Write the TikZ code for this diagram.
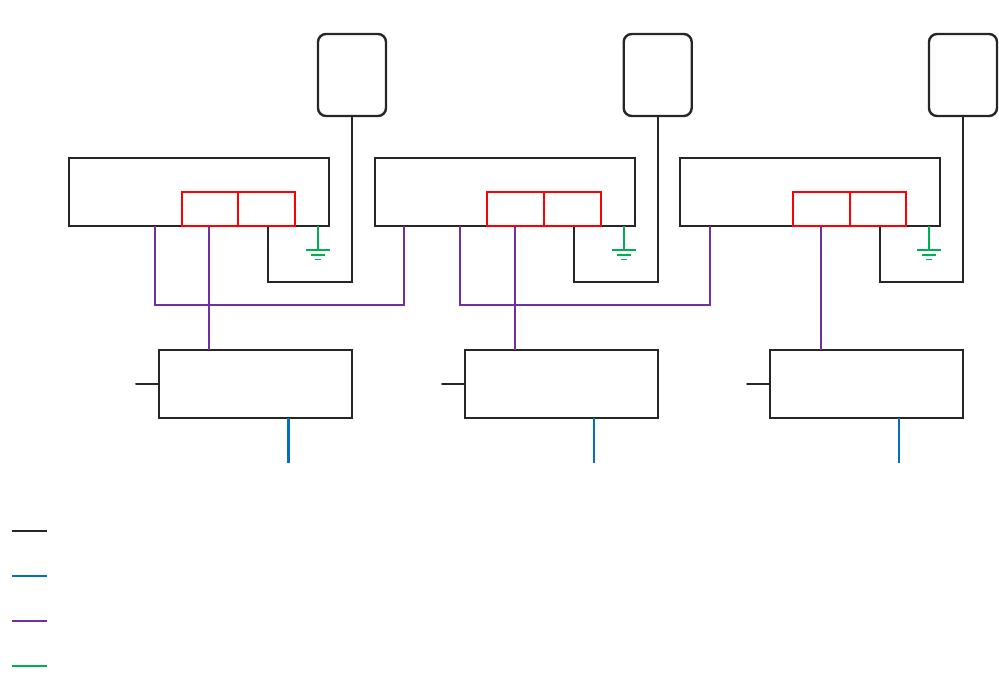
\documentclass[tikz,border=0pt]{standalone}
\usetikzlibrary{calc}
\definecolor{ink}{HTML}{262626}
\definecolor{redport}{HTML}{FF0000}
\definecolor{busblue}{HTML}{0070C0}
\definecolor{buspurple}{HTML}{7030A0}
\definecolor{busgreen}{HTML}{00B050}
\tikzset{
  box/.style={draw=ink,line width=1.9pt,inner sep=0pt,outer sep=0pt,minimum width=#1,minimum height=68pt},
  sensor/.style={draw=ink,line width=2.4pt,rounded corners=8pt,inner sep=0pt,outer sep=0pt,minimum width=68pt,minimum height=82pt},
  port/.style={draw=redport,line width=2pt,inner sep=0pt,outer sep=0pt,minimum width=56.5pt,minimum height=34pt},
  wire/.style={draw=ink,line width=2pt,line cap=round,line join=miter},
  blueline/.style={draw=busblue,line width=2.6pt},
  purpleline/.style={draw=buspurple,line width=2.1pt,line join=miter},
  greenline/.style={draw=busgreen,line width=1.5pt},
}
\begin{document}
\begin{tikzpicture}[x=1pt,y=-1pt]
\useasboundingbox (0,0) rectangle (999,674);
% X = box centre, Pa/Pb = port centres, S = return wire, G = ground, T = sensor, L = lower box, D = drop, U = output
\foreach \i/\X/\Pa/\Pb/\S/\G/\T/\L/\D/\U in {
  1/199/210/266.5/268/318/352/255.5/209/288.5,
  2/505/515.5/572.5/574/624/657.7/561.5/515/594,
  3/810/821.5/878/880/929/963/866.7/821/899}{
  \node[box=260pt] (main\i) at (\X,192) {};
  \node[sensor] (sensor\i) at (\T,75) {};
  \node[box=193pt] (lower\i) at (\L,384) {};
  \coordinate (gtop\i) at (\G,226);
  \coordinate (gnd\i) at (\G,250);
  \coordinate (ret\i) at (\S,226);
  \coordinate (cross\i) at (\S,282);
  \coordinate (dtop\i) at (\D,226);
  \coordinate (dbot\i) at (\D,350);
  \coordinate (ubot\i) at (\U,463);
  \coordinate (utop\i) at (\U,418);
  \coordinate (stub\i) at ($(lower\i.west)+(-23,0)$);
  \draw[wire] (sensor\i.south) |- (cross\i) -- (ret\i);
  \draw[purpleline] (dtop\i) -- (dbot\i);
  \draw[blueline] (utop\i) -- (ubot\i);
  \draw[wire] (stub\i) -- (lower\i.west);
  \draw[greenline] (gtop\i) -- (gnd\i);
  \draw[greenline] ($(gnd\i)+(-12,0)$) -- ($(gnd\i)+(12,0)$);
  \draw[greenline,line width=2pt] ($(gnd\i)+(-7,5)$) -- ($(gnd\i)+(7,5)$);
  \draw[greenline,line width=1pt] ($(gnd\i)+(-3,9)$) -- ($(gnd\i)+(3,9)$);
  \node[port] (porta\i) at (\Pa,209) {};
  \node[port] (portb\i) at (\Pb,209) {};
}
\coordinate (pa1) at (155,226); \coordinate (pb1) at (404,226); \coordinate (pm1) at (155,305);
\coordinate (pa2) at (460,226); \coordinate (pb2) at (710,226); \coordinate (pm2) at (460,305);
\draw[purpleline] (pa1) -- (pm1) -| (pb1);
\draw[purpleline] (pa2) -- (pm2) -| (pb2);
\foreach \y/\s in {531/wire,576/blueline,621/purpleline,666/greenline}{
  \coordinate (la\y) at (12,\y);
  \coordinate (lb\y) at (47,\y);
  \draw[\s,line cap=butt,line width=2pt] (la\y) -- (lb\y);
}
\end{tikzpicture}
\end{document}
